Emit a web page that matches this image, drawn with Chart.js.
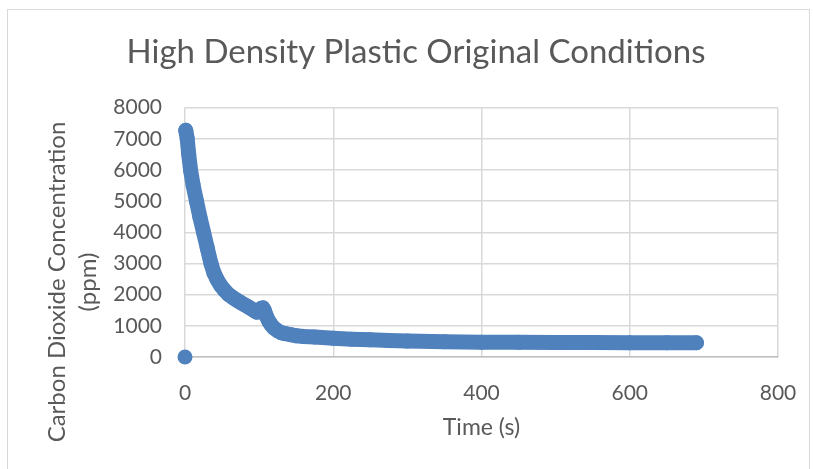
<!DOCTYPE html>
<html>
<head>
<meta charset="utf-8">
<script src="https://cdn.jsdelivr.net/npm/chart.js@4"></script>
<style>
  body { margin: 0; background: #fff; }
  canvas { display: block; }
</style>
</head>
<body>
<canvas id="co2Chart" width="813" height="469"></canvas>
<script>
// time in seconds, CO2 in ppm
const timeSec = [0, 1, 3, 5, 7.5, 11, 15.5, 20, 25, 30, 35, 39, 43, 48, 53, 59,
  65, 70, 75, 80, 85, 90, 94, 97, 100, 103, 105, 107, 110, 113, 116, 120, 125, 130, 135, 142,
  150, 160, 175, 200, 225, 250, 275, 300, 350, 400, 450, 500, 550, 600, 650, 690];
const co2Ppm = [0, 7270, 7000, 6500, 6000, 5500, 5000, 4500, 4000, 3500, 3000, 2700, 2500, 2300, 2150, 2000,
  1900, 1820, 1750, 1680, 1610, 1540, 1480, 1440, 1460, 1560, 1575, 1500, 1300, 1150, 1040, 930, 840, 780, 750, 720,
  680, 660, 640, 600, 570, 550, 530, 510, 490, 475, 470, 465, 462, 460, 458, 458];
const yTickValues = [0, 1000, 2000, 3000, 4000, 5000, 6000, 7000, 8000];
const xTickValues = [0, 200, 400, 600, 800];

const points = timeSec.map((t, i) => ({ x: t, y: co2Ppm[i] }));
const blue = "#4f81bd";
const textGrey = "#595959";

// white page + thin frame like the Excel chart border
const frame = {
  id: "frame",
  beforeDraw(chart) {
    const ctx = chart.ctx;
    ctx.save();
    ctx.fillStyle = "#fff";
    ctx.fillRect(0, 0, chart.width, chart.height);
    ctx.strokeStyle = "#d9d9d9";
    ctx.lineWidth = 1;
    ctx.strokeRect(7.5, 9.5, 802, 470);
    ctx.restore();
  }
};

// y title sits lower than the axis middle in the original, so draw it here
const yTitle = {
  id: "yTitle",
  afterDraw(chart) {
    const ctx = chart.ctx;
    ctx.save();
    ctx.fillStyle = textGrey;
    ctx.font = "24px Lato";
    ctx.textAlign = "center";
    ctx.textBaseline = "alphabetic";
    ctx.translate(0, 282);
    ctx.rotate(-Math.PI / 2);
    ctx.fillText("Carbon Dioxide Concentration", 0, 65);
    ctx.fillText("(ppm)", 0, 96);
    ctx.restore();
  }
};

const config = {
  type: "scatter",
  data: {
    datasets: [{
      data: points,
      showLine: true,
      clip: false,
      borderColor: blue,
      backgroundColor: blue,
      borderWidth: 15,
      borderCapStyle: "round",
      borderJoinStyle: "round",
      pointRadius: 7.5,
      pointHoverRadius: 7.5,
      pointBorderWidth: 0,
      segment: {
        // the (0, 0) reading is a lone marker
        borderColor: ctx => ctx.p0DataIndex === 0 ? "rgba(0,0,0,0)" : undefined
      }
    }]
  },
  options: {
    responsive: false,
    animation: false,
    layout: { padding: { left: 54, right: 35, top: 0, bottom: 0 } },
    plugins: {
      legend: { display: false },
      tooltip: { enabled: false },
      title: {
        display: true,
        text: "High Density Plastic Original Conditions",
        color: textGrey,
        font: { family: "Lato", size: 33, weight: "normal" },
        padding: { top: 33, bottom: 35 }
      }
    },
    scales: {
      x: {
        type: "linear",
        min: 0,
        max: 800,
        afterBuildTicks: scale => { scale.ticks = xTickValues.map(v => ({ value: v })); },
        afterFit: scale => { scale.height = 112; },
        // invisible tick marks give the label gap without widening the right padding
        grid: { color: "#d9d9d9", lineWidth: 1.5, drawTicks: true, tickLength: 24, tickColor: "rgba(0,0,0,0)" },
        border: { color: "#bfbfbf", width: 1.5 },
        ticks: { color: textGrey, font: { family: "Lato", size: 21 }, padding: 0, callback: v => String(v) },
        title: {
          display: true,
          text: "Time (s)",
          color: textGrey,
          font: { family: "Lato", size: 23 },
          padding: { top: 0, bottom: 28 }
        }
      },
      y: {
        type: "linear",
        min: 0,
        max: 8000,
        afterBuildTicks: scale => { scale.ticks = yTickValues.map(v => ({ value: v })); },
        afterFit: scale => { scale.width = 131; },
        grid: { color: "#d9d9d9", lineWidth: 1.5, drawTicks: false },
        border: { display: false },
        ticks: { color: textGrey, font: { family: "Lato", size: 21 }, padding: 23, callback: v => String(v) }
      }
    }
  },
  plugins: [frame, yTitle]
};

new Chart(document.getElementById("co2Chart").getContext("2d"), config);
</script>
</body>
</html>
